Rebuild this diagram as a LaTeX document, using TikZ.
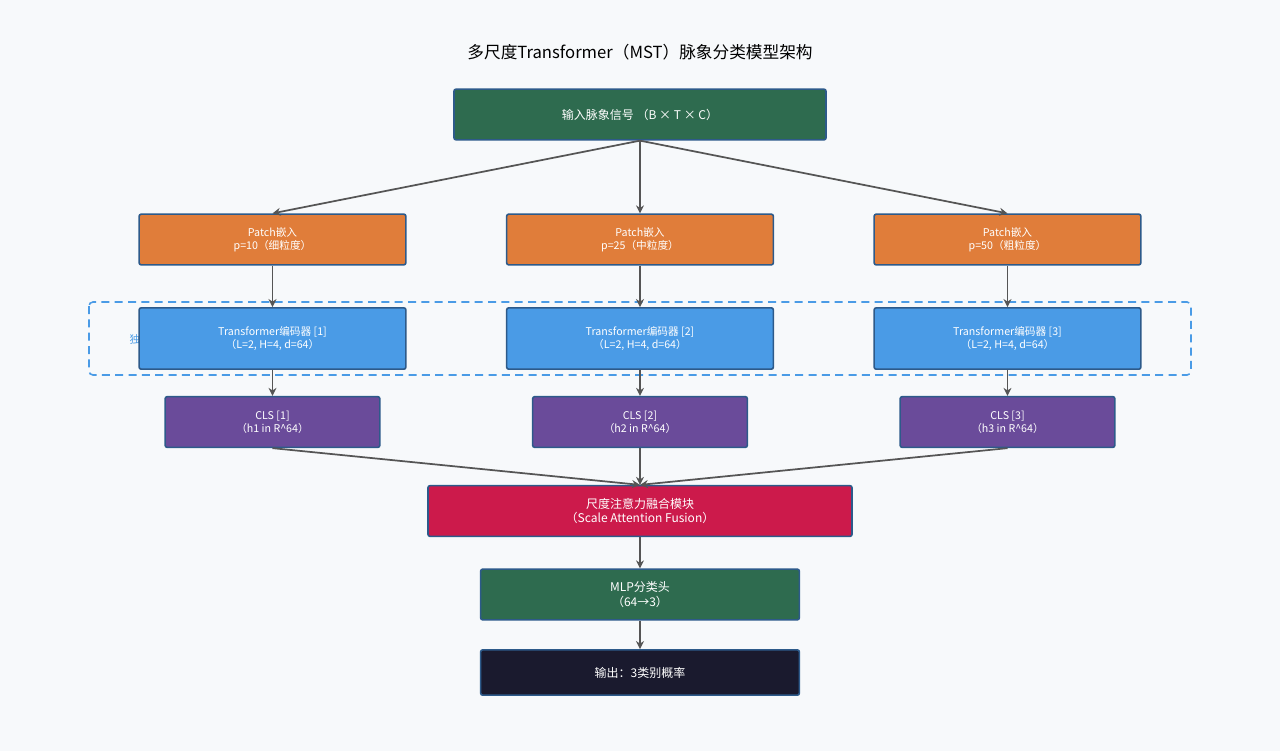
\documentclass[tikz,border=0pt]{standalone}
\usepackage{fontspec}
\setmainfont{Noto Sans CJK SC}
\usetikzlibrary{arrows.meta}
\definecolor{bg}{HTML}{F7F9FB}
\definecolor{cgreen}{HTML}{2E6B4F}
\definecolor{corange}{HTML}{E07D3A}
\definecolor{cblue}{HTML}{4A9BE6}
\definecolor{cpurple}{HTML}{6A4B9A}
\definecolor{cred}{HTML}{CC1A4B}
\definecolor{cdark}{HTML}{1A1A2E}
\definecolor{cedge}{HTML}{2D5A8A}
\definecolor{carrow}{HTML}{555555}
\tikzset{
 box/.style={draw=cedge,line width=1.2pt,rounded corners=1.5pt,text=white,align=center,font=\fontsize{8}{10}\selectfont,inner sep=0pt},
 arr/.style={draw=carrow,line width=1.3pt,-{Stealth[length=6pt,width=6pt]}}
}
\begin{document}
\begin{tikzpicture}[x=0.75pt,y=-0.75pt]
\fill[bg] (0,0) rectangle (1280,751);
\useasboundingbox (0,0) rectangle (1280,751);
\node[font=\fontsize{12.5}{14}\selectfont] (title) at (640,52) {多尺度Transformer（MST）脉象分类模型架构};
\node[box,fill=cgreen,minimum width=279pt,minimum height=38pt,font=\fontsize{9}{11}\selectfont] (in) at (640,114.5) {输入脉象信号 （B × T × C）};
\draw[cblue,dashed,line width=1.2pt,dash pattern=on 6pt off 4pt,rounded corners=3pt] (89,302) rectangle (1191,375);
\node[text=cblue,font=\fontsize{8}{10}\selectfont,anchor=west] (lab) at (125,339) {独立编码};
\foreach \i/\x/\p/\g in {1/272.5/10/细粒度,2/640/25/中粒度,3/1007.5/50/粗粒度}{
 \node[box,fill=corange,minimum width=200pt,minimum height=38pt] (p\i) at (\x,239.5) {Patch嵌入\\p=\p （\g）};
 \node[box,fill=cblue,minimum width=200pt,minimum height=46pt] (t\i) at (\x,338.5) {Transformer编码器 [\i]\\（L=2, H=4, d=64）};
 \node[box,fill=cpurple,minimum width=161pt,minimum height=38pt] (c\i) at (\x,422) {CLS [\i]\\（h\i{} in R\^{}64）};
}
\node[box,fill=cred,minimum width=318pt,minimum height=38pt,font=\fontsize{9}{11}\selectfont] (f) at (640,511) {尺度注意力融合模块\\（Scale Attention Fusion）};
\node[box,fill=cgreen,minimum width=239pt,minimum height=38pt,font=\fontsize{9}{11}\selectfont] (m) at (640,594.5) {MLP分类头\\（64→3）};
\node[box,fill=cdark,minimum width=239pt,minimum height=34pt,font=\fontsize{9}{11}\selectfont] (o) at (640,672.5) {输出：3类别概率};
\foreach \i in {1,2,3}{
 \draw[arr] (in.south) -- (p\i.north);
 \draw[arr] (p\i) -- (t\i);
 \draw[arr] (t\i) -- (c\i);
 \draw[arr] (c\i.south) -- (f.north);
}
\draw[arr] (f) -- (m);
\draw[arr] (m) -- (o);
\end{tikzpicture}
\end{document}
